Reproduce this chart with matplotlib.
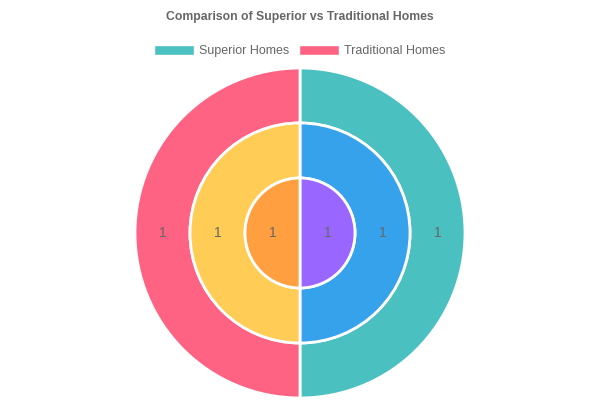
import matplotlib.pyplot as plt
from matplotlib.patches import Patch

# data
categories = ["Superior Homes", "Traditional Homes"]
outer_vals = [1, 1]
middle_vals = [1, 1]
inner_vals = [1, 1]
outer_colors = ["#4BC0C0", "#FF6384"]
middle_colors = ["#36A2EB", "#FFCD56"]
inner_colors = ["#9966FF", "#FF9F40"]

plt.rcParams['font.family'] = ['Liberation Sans', 'DejaVu Sans']

fig = plt.figure(figsize=(6, 4), dpi=100)
ax = fig.add_axes([0, 0, 1, 1])

cx, cy = 300, 167
ring = 55
rings = [(outer_vals, outer_colors, 3 * ring),
         (middle_vals, middle_colors, 2 * ring),
         (inner_vals, inner_colors, ring)]

for vals, cols, r in rings:
    w = ring if r > ring else r
    wedges, texts = ax.pie(vals, colors=cols, radius=r, center=(cx, cy),
                           startangle=90, counterclock=False,
                           labels=[str(v) for v in vals],
                           labeldistance=(r - ring / 2) / r,
                           wedgeprops=dict(width=w, edgecolor='white', linewidth=2),
                           textprops=dict(color='#666666', fontsize=10),
                           frame=True)
    for t in texts:
        t.set_ha('center')
        t.set_va('center')

ax.set_xlim(0, 600)
ax.set_ylim(0, 400)
ax.set_aspect('equal')
ax.axis('off')

fig.text(0.5, 1 - 17 / 400, "Comparison of Superior vs Traditional Homes",
         ha='center', va='center', fontsize=8.8, fontweight='bold', color='#666666')

handles = [Patch(facecolor=c, edgecolor='white') for c in outer_colors]
fig.legend(handles, categories, loc='center', bbox_to_anchor=(0.5, 1 - 51 / 400),
           ncol=2, frameon=False, fontsize=9, handlelength=3.2, handleheight=0.9,
           columnspacing=0.8, handletextpad=0.4, labelcolor='#666666')

fig.savefig("out.png", dpi=100)
